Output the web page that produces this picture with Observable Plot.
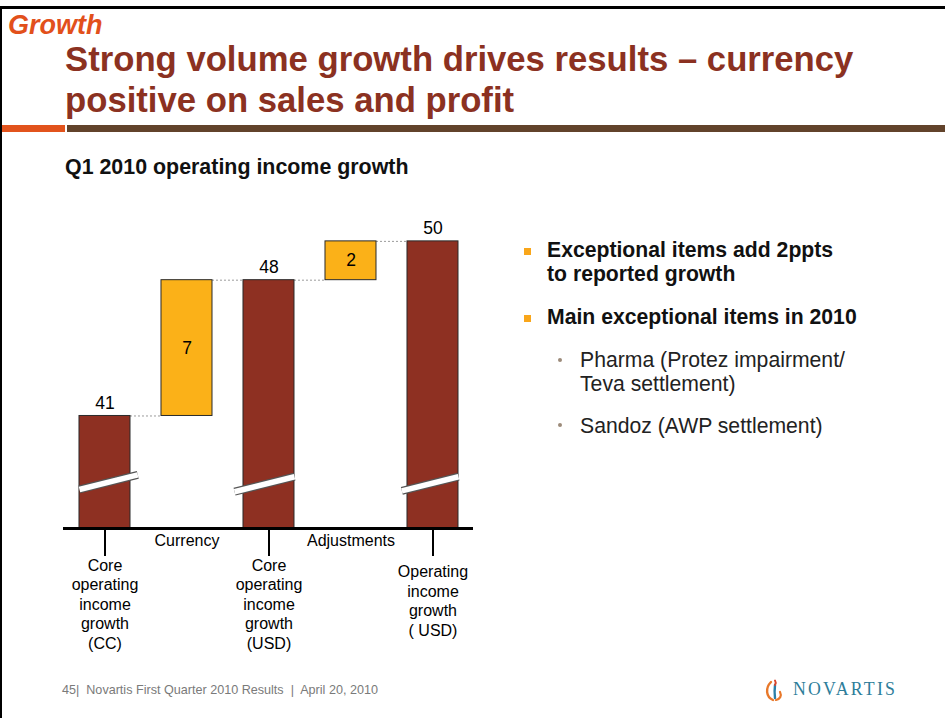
<!DOCTYPE html>
<html><head><meta charset="utf-8">
<script src="https://cdn.jsdelivr.net/npm/d3@7"></script>
<script src="https://cdn.jsdelivr.net/npm/@observablehq/plot@0.6"></script>
<style>
body{margin:0;background:#fff;}
#page{position:relative;width:945px;height:718px;overflow:hidden;background:#fff;font-family:"Liberation Sans",Arial,Helvetica,sans-serif;}
.abs{position:absolute;white-space:nowrap;}
#chart{position:absolute;left:0;top:210px;}
</style></head><body><div id="page">
<div class="abs" style="left:0;top:6px;width:945px;height:3px;background:#000"></div>
<div class="abs" style="left:0;top:6px;width:2px;height:712px;background:#000"></div>
<div class="abs" style="left:8px;top:8.5px;font-size:27px;line-height:32.4px;font-weight:bold;font-style:italic;color:#E2501B">Growth</div>
<div class="abs" style="left:65px;top:39px;font-size:34.7px;line-height:40.7px;font-weight:bold;color:#8B3121">Strong volume growth drives results – currency<br>positive on sales and profit</div>
<div class="abs" style="left:2px;top:125px;width:63px;height:7px;background:#E2531C"></div>
<div class="abs" style="left:67px;top:125px;width:878px;height:7px;background:#62432B"></div>
<div class="abs" style="left:65px;top:155px;font-size:21.4px;line-height:25.7px;font-weight:bold;color:#111">Q1 2010 operating income growth</div>

<div class="abs" style="left:524px;top:248px;width:7px;height:6.5px;background:#F9A61A"></div>
<div class="abs" style="left:547px;top:237.7px;font-size:21.2px;line-height:24.7px;font-weight:bold;color:#111">Exceptional items add 2ppts<br>to reported growth</div>
<div class="abs" style="left:524px;top:315px;width:7px;height:6.5px;background:#F9A61A"></div>
<div class="abs" style="left:547px;top:304.7px;font-size:21.2px;line-height:24.7px;font-weight:bold;color:#111">Main exceptional items in 2010</div>
<div class="abs" style="left:557.5px;top:358px;width:4px;height:4px;border-radius:2px;background:#9C8B7A"></div>
<div class="abs" style="left:580px;top:347.7px;font-size:21.2px;line-height:24.4px;color:#222">Pharma (Protez impairment/<br>Teva settlement)</div>
<div class="abs" style="left:557.5px;top:423px;width:4px;height:4px;border-radius:2px;background:#9C8B7A"></div>
<div class="abs" style="left:580px;top:413.7px;font-size:21.2px;line-height:24.4px;color:#222">Sandoz (AWP settlement)</div>

<div id="chart"></div>

<div class="abs" style="left:62px;top:683px;font-size:12.6px;line-height:15px;color:#7a7a7a">45|&nbsp; Novartis First Quarter 2010 Results &nbsp;|&nbsp; April 20, 2010</div>
<svg class="abs" style="left:764px;top:679px" width="22" height="24" viewBox="0 0 22 24">
  <path d="M7 3 C1 9, 2 18, 9 21" stroke="#E8782A" stroke-width="2.4" fill="none" stroke-linecap="round"/>
  <path d="M11 6 C10.5 10, 10.5 15, 11 19" stroke="#2A7FA8" stroke-width="2.4" fill="none" stroke-linecap="round"/>
  <path d="M11 1.5 C12 3, 12 4.5, 11 6" stroke="#D9452B" stroke-width="2" fill="none" stroke-linecap="round"/>
  <path d="M16 13 C18 17, 16 20, 12 21" stroke="#E8782A" stroke-width="2.2" fill="none" stroke-linecap="round"/>
</svg>
<div class="abs" style="left:793px;top:679px;font-family:'Liberation Serif','DejaVu Serif',serif;font-size:17.8px;line-height:21px;letter-spacing:2.2px;color:#2D7D9A">NOVARTIS</div>
</div>
<script>
// ---- data ----
const categories = ["Core\noperating\nincome\ngrowth\n(CC)", "Currency", "Core\noperating\nincome\ngrowth\n(USD)", "Adjustments", "Operating\nincome\ngrowth\n( USD)"];
const kinds = ["total", "delta", "total", "delta", "total"];
const values = [41, 7, 48, 2, 50];

// ---- layout / style constants ----
const W = 500, H = 450, mL = 63, mR = 27, mT = 20, mB = 132;
const base = 35.2;                 // broken-axis baseline value
const ppu = 19.4;                  // pixels per unit
const yTop = base + (H - mT - mB) / ppu;
const hw = 0.311;                  // half bar width (x units)
const brown = "#8E3022", yellow = "#FBB118";
const breakValue = 37.54, breakSlope = 1.057;
const breakExtents = [[-0.311, 0.40], [-0.42, 0.311], [-0.38, 0.311]];

// ---- derived rows ----
let running = 0;
const rows = categories.map((c, i) => {
  let y1, y2;
  if (kinds[i] === "total") { y1 = base; y2 = values[i]; running = values[i]; }
  else { y1 = running; y2 = running + values[i]; running = y2; }
  return {i, label: c, kind: kinds[i], value: values[i], y1, y2, lines: c.split("\n").length};
});
const totals = rows.filter(d => d.kind === "total");
const deltas = rows.filter(d => d.kind === "delta");
const connectors = rows.slice(0, -1).map(d => ({x1: d.i + hw, x2: d.i + 1 - hw, y: d.y2}));
const breaks = totals.map((d, k) => {
  const [a, b] = breakExtents[k];
  return {x1: d.i + a, x2: d.i + b, y1: breakValue + breakSlope * a, y2: breakValue + breakSlope * b};
});

const font = "'Liberation Sans', Arial, Helvetica, sans-serif";
const chart = Plot.plot({
  width: W, height: H,
  marginLeft: mL, marginRight: mR, marginTop: mT, marginBottom: mB,
  x: {domain: [-0.506, 4.494], axis: null},
  y: {domain: [base, yTop], axis: null},
  style: {fontFamily: font, fontSize: "16px", color: "#000", background: "transparent", overflow: "visible"},
  marks: [
    Plot.ruleY(connectors, {x1: "x1", x2: "x2", y: "y", stroke: "#9a9a9a", strokeWidth: 1, strokeDasharray: "2,2"}),
    Plot.rectY(totals, {x1: d => d.i - hw, x2: d => d.i + hw, y1: "y1", y2: "y2", fill: brown, stroke: "#2a2a2a", strokeWidth: 1}),
    Plot.rectY(deltas, {x1: d => d.i - hw, x2: d => d.i + hw, y1: "y1", y2: "y2", fill: yellow, stroke: "#2a2a2a", strokeWidth: 1}),
    Plot.link(breaks, {x1: "x1", y1: "y1", x2: "x2", y2: "y2", stroke: "#555", strokeWidth: 8, strokeLinecap: "butt"}),
    Plot.link(breaks, {x1: "x1", y1: "y1", x2: "x2", y2: "y2", stroke: "#fff", strokeWidth: 5.5, strokeLinecap: "butt"}),
    Plot.ruleY([base], {stroke: "#000", strokeWidth: 3}),
    Plot.ruleX(totals, {x: "i", y1: base, y2: base - 28 / ppu, stroke: "#000", strokeWidth: 2}),
    Plot.text(totals, {x: "i", y: "y2", text: d => String(d.value), dy: -13, fontSize: 17.5, lineAnchor: "middle"}),
    Plot.text(deltas, {x: "i", y: d => (d.y1 + d.y2) / 2, text: d => String(d.value), fontSize: 17.5, lineAnchor: "middle"}),
    Plot.text(deltas, {x: "i", frameAnchor: "bottom", dy: 12, text: "label", fontSize: 16, lineAnchor: "middle"}),
    Plot.text(totals.filter(d => d.lines === 5), {x: "i", frameAnchor: "bottom", dy: 28.5, text: "label", fontSize: 16, lineAnchor: "top", lineHeight: 1.215}),
    Plot.text(totals.filter(d => d.lines !== 5), {x: "i", frameAnchor: "bottom", dy: 35, text: "label", fontSize: 16, lineAnchor: "top", lineHeight: 1.215})
  ]
});
document.getElementById("chart").appendChild(chart);
</script>
</body></html>
